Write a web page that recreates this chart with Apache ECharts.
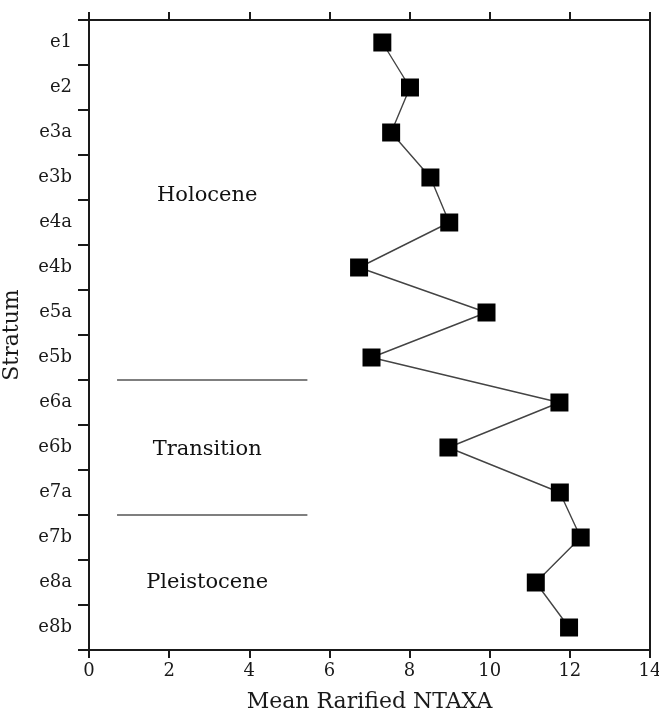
<!DOCTYPE html>
<html>
<head>
<meta charset="utf-8">
<script src="https://cdn.jsdelivr.net/npm/echarts@6/dist/echarts.min.js"></script>
<style>
  html, body { margin: 0; padding: 0; background: #fff; }
  #chart { width: 659px; height: 715px; }
</style>
</head>
<body>
<div id="chart"></div>
<script>
// Strata, top (youngest) to bottom (oldest)
const strata = ['e1', 'e2', 'e3a', 'e3b', 'e4a', 'e4b', 'e5a', 'e5b',
                'e6a', 'e6b', 'e7a', 'e7b', 'e8a', 'e8b'];
// Mean rarified NTAXA per stratum
const ntaxa = [7.32, 8.01, 7.54, 8.52, 8.99, 6.74, 9.92, 7.05,
               11.74, 8.97, 11.75, 12.27, 11.15, 11.98];
// X axis ticks
const xTicks = [0, 2, 4, 6, 8, 10, 12, 14];
// Period boundaries, in stratum-boundary units (0 = top of e1)
const periodBoundaries = [8, 11];
const boundarySpan = [0.7, 5.45];
// Period names and their label positions [x, depth]
const periodNames = ['Holocene', 'Transition', 'Pleistocene'];
const periodLabelX = [2.95, 2.95, 2.95];
const periodLabelDepth = [3.9, 9.55, 12.5];

const FONT = 'DejaVu Serif';
const INK = '#1a1a1a';

const chart = echarts.init(document.getElementById('chart'), null, { renderer: 'canvas' });

const boundarySeries = periodBoundaries.map(function (b) {
  return {
    type: 'line',
    xAxisIndex: 0,
    yAxisIndex: 1,
    data: [[boundarySpan[0], b], [boundarySpan[1], b]],
    symbol: 'none',
    silent: true,
    lineStyle: { color: '#555', width: 1.5 },
    z: 1
  };
});

chart.setOption({
  animation: false,
  backgroundColor: '#fff',
  grid: { left: 89, right: 9, top: 20, bottom: 65, containLabel: false, outerBoundsMode: 'none' },
  xAxis: [
    {
      type: 'value', position: 'bottom', min: 0, max: 14, interval: 2,
      name: 'Mean Rarified NTAXA', nameLocation: 'middle', nameGap: 41,
      nameTextStyle: { fontFamily: FONT, fontSize: 22, color: INK },
      axisLine: { show: true, onZero: false, lineStyle: { color: INK, width: 2 } },
      axisTick: { show: true, inside: false, length: 8, lineStyle: { color: INK, width: 2 } },
      axisLabel: {
        fontFamily: FONT, fontSize: 18, color: INK, margin: 12,
        formatter: function (v) { return xTicks.indexOf(v) >= 0 ? String(v) : ''; }
      },
      splitLine: { show: false }
    },
    {
      type: 'value', position: 'top', min: 0, max: 14, interval: 2,
      axisLine: { show: true, onZero: false, lineStyle: { color: INK, width: 2 } },
      axisTick: { show: true, inside: false, length: 8, lineStyle: { color: INK, width: 2 } },
      axisLabel: { show: false },
      splitLine: { show: false }
    }
  ],
  yAxis: [
    {
      type: 'category', data: strata, inverse: true, position: 'left',
      boundaryGap: true,
      name: 'Stratum', nameLocation: 'middle', nameGap: 66, nameRotate: 90,
      nameTextStyle: { fontFamily: FONT, fontSize: 22, color: INK },
      axisLine: { show: true, onZero: false, lineStyle: { color: INK, width: 2 } },
      axisTick: { show: true, inside: false, length: 11, alignWithLabel: false,
                  lineStyle: { color: INK, width: 2 } },
      axisLabel: { fontFamily: FONT, fontSize: 18, color: INK, margin: 17, interval: 0 },
      splitLine: { show: false }
    },
    {
      // depth scale in stratum units, drawn as the right frame
      type: 'value', position: 'right', min: 0, max: strata.length, inverse: true,
      axisLine: { show: true, onZero: false, lineStyle: { color: INK, width: 2 } },
      axisTick: { show: false },
      axisLabel: { show: false },
      splitLine: { show: false }
    }
  ],
  series: [
    {
      type: 'line',
      xAxisIndex: 0,
      yAxisIndex: 0,
      data: ntaxa.map(function (v, i) { return [v, strata[i]]; }),
      symbol: 'rect',
      symbolSize: 18,
      itemStyle: { color: '#000' },
      lineStyle: { color: '#444', width: 1.4 },
      z: 3
    }
  ].concat(boundarySeries).concat([
    {
      type: 'scatter',
      xAxisIndex: 0,
      yAxisIndex: 1,
      symbolSize: 0,
      silent: true,
      itemStyle: { opacity: 1 },
      data: periodNames.map(function (n, i) {
        return { value: [periodLabelX[i], periodLabelDepth[i]], name: n };
      }),
      label: {
        show: true, position: 'inside',
        formatter: function (p) { return p.name; },
        fontFamily: FONT, fontSize: 21, color: '#111', textBorderWidth: 0
      },
      z: 2
    }
  ])
});
</script>
</body>
</html>
